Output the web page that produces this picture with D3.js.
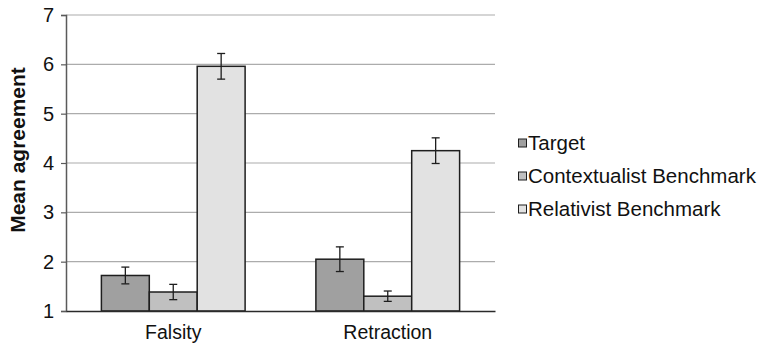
<!DOCTYPE html>
<html>
<head>
<meta charset="utf-8">
<script src="https://cdn.jsdelivr.net/npm/d3@7"></script>
<style>
  body { margin: 0; background: #fff; }
  svg { display: block; font-family: "Liberation Sans", Arial, sans-serif; }
</style>
</head>
<body>
<div class="chart"></div>
<script>
// categories and series
const categories = ['Falsity', 'Retraction']
const seriesNames = ['Target', 'Contextualist Benchmark', 'Relativist Benchmark']
const seriesColors = ['#a0a0a0', '#c0c0c0', '#e2e2e2']

// means per series (Falsity, Retraction)
const targetMeans = [1.72, 2.05]
const contextMeans = [1.385, 1.30]
const relativistMeans = [5.96, 4.25]

// error bar half-widths
const targetErr = [0.17, 0.25]
const contextErr = [0.155, 0.105]
const relativistErr = [0.26, 0.26]

const yTicks = [1, 2, 3, 4, 5, 6, 7]

var means = [targetMeans, contextMeans, relativistMeans]
var errs = [targetErr, contextErr, relativistErr]

var svgWidth = 760
var svgHeight = 346

var margin = { top: 15, bottom: 35, left: 66, right: 265 }
var width = svgWidth - margin.left - margin.right
var height = svgHeight - margin.top - margin.bottom

var svg = d3.select('.chart')
    .append('svg')
    .attr('width', svgWidth)
    .attr('height', svgHeight)

var chartGroup = svg.append('g')
    .attr('transform', `translate(${margin.left}, ${margin.top})`)

var yScale = d3.scaleLinear()
    .domain([1, 7])
    .range([height, 0])

var x0 = d3.scaleBand()
    .domain(categories)
    .range([0, width])
    .paddingInner(0.33)
    .paddingOuter(0.165)

var x1 = d3.scaleBand()
    .domain(seriesNames)
    .range([0, x0.bandwidth()])

// gridlines
chartGroup.append('g')
    .selectAll('line')
    .data(yTicks.filter(d => d > 1))
    .enter()
    .append('line')
    .attr('x1', 0)
    .attr('x2', width)
    .attr('y1', d => yScale(d))
    .attr('y2', d => yScale(d))
    .attr('stroke', '#acacac')
    .attr('stroke-width', 1.2)

// build flat data for bars
var bars = []
categories.forEach((c, ci) => {
    seriesNames.forEach((s, si) => {
        bars.push({ cat: c, series: s, si: si, value: means[si][ci], err: errs[si][ci] })
    })
})

var barGroup = chartGroup.selectAll('.bar')
    .data(bars)
    .enter()
    .append('g')
    .attr('transform', d => `translate(${x0(d.cat) + x1(d.series)}, 0)`)

barGroup.append('rect')
    .attr('x', 0)
    .attr('y', d => yScale(d.value))
    .attr('width', x1.bandwidth())
    .attr('height', d => yScale(1) - yScale(d.value))
    .attr('fill', d => seriesColors[d.si])
    .attr('stroke', '#1e1e1e')
    .attr('stroke-width', 1.5)

// error bars
var bw = x1.bandwidth()
barGroup.append('line')
    .attr('x1', bw / 2).attr('x2', bw / 2)
    .attr('y1', d => yScale(d.value + d.err))
    .attr('y2', d => yScale(d.value - d.err))
    .attr('stroke', '#1e1e1e').attr('stroke-width', 1.3)
barGroup.append('line')
    .attr('x1', bw / 2 - 4).attr('x2', bw / 2 + 4)
    .attr('y1', d => yScale(d.value + d.err))
    .attr('y2', d => yScale(d.value + d.err))
    .attr('stroke', '#1e1e1e').attr('stroke-width', 1.3)
barGroup.append('line')
    .attr('x1', bw / 2 - 4).attr('x2', bw / 2 + 4)
    .attr('y1', d => yScale(d.value - d.err))
    .attr('y2', d => yScale(d.value - d.err))
    .attr('stroke', '#1e1e1e').attr('stroke-width', 1.3)

// y axis
var yAxis = chartGroup.append('g')
    .call(d3.axisLeft(yScale).tickValues(yTicks).tickSize(5).tickPadding(7).tickFormat(d3.format('d')))
yAxis.select('.domain').attr('stroke', '#5a5a5a').attr('stroke-width', 1.5)
yAxis.selectAll('.tick line').attr('stroke', '#5a5a5a').attr('stroke-width', 1.2)
yAxis.selectAll('.tick text')
    .attr('font-size', '20px')
    .attr('fill', '#111')
    .attr('font-family', '"Liberation Sans", Arial, sans-serif')

// x axis baseline
var xAxis = chartGroup.append('g')
    .attr('transform', `translate(0, ${height})`)
    .call(d3.axisBottom(x0).tickSize(0).tickPadding(14))
xAxis.select('.domain').attr('stroke', '#2a2a2a').attr('stroke-width', 1.5)
xAxis.selectAll('.tick text')
    .attr('font-size', '19.5px')
    .attr('fill', '#111')
    .attr('font-family', '"Liberation Sans", Arial, sans-serif')

// y title
svg.append('text')
    .attr('transform', `translate(25, 150) rotate(-90)`)
    .attr('text-anchor', 'middle')
    .attr('font-size', '21px')
    .attr('font-weight', 'bold')
    .attr('fill', '#111')
    .text('Mean agreement')

// legend
var legend = svg.append('g')
    .attr('transform', 'translate(518, 143)')
var legendItem = legend.selectAll('g')
    .data(seriesNames)
    .enter()
    .append('g')
    .attr('transform', (d, i) => `translate(0, ${i * 33})`)
legendItem.append('rect')
    .attr('x', 0.5)
    .attr('y', -4)
    .attr('width', 8)
    .attr('height', 8)
    .attr('fill', (d, i) => seriesColors[i])
    .attr('stroke', '#1e1e1e')
    .attr('stroke-width', 1)
legendItem.append('text')
    .attr('x', 10)
    .attr('y', 7)
    .attr('font-size', '20.5px')
    .attr('fill', '#111')
    .text(d => d)
</script>
</body>
</html>
